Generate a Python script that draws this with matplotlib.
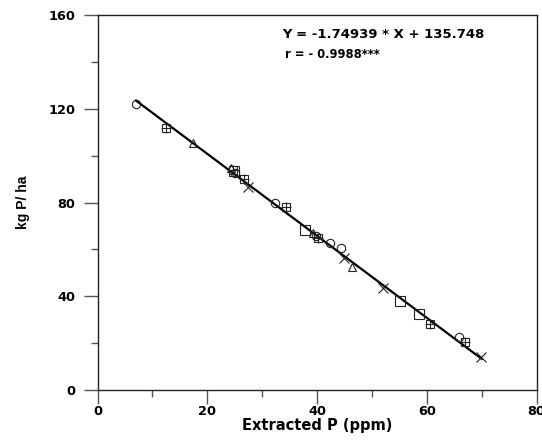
import matplotlib
matplotlib.use("Agg")
import matplotlib.pyplot as plt
import numpy as np
from matplotlib.ticker import MultipleLocator

plt.rcParams['font.family'] = ['DejaVu Sans']

# data, grouped by marker
circle_x = [7.0, 25.0, 32.3, 39.8, 42.4, 44.3, 65.8]
circle_y = [122.0, 92.4, 79.8, 65.7, 62.6, 60.4, 22.6]
boxplus_x = [12.4, 24.7, 26.7, 34.4, 40.1, 60.5, 66.9]
boxplus_y = [111.9, 93.9, 89.9, 78.2, 65.0, 28.2, 20.5]
tri_x = [17.4, 24.4, 39.2, 46.4]
tri_y = [105.2, 94.9, 67.1, 52.4]
square_x = [24.8, 37.8, 55.1, 58.5]
square_y = [93.5, 68.3, 38.1, 32.3]
cross_x = [27.4, 44.9, 52.0, 69.8]
cross_y = [86.7, 56.2, 43.4, 13.9]

slope = -1.74939
intercept = 135.748
fit_x = np.array([7.0, 70.0])

fig = plt.figure(figsize=(5.42, 4.44), dpi=100)
ax = fig.add_axes([0.180, 0.1216, 0.810, 0.8446])

ax.plot(fit_x, slope * fit_x + intercept, color='black', linewidth=1.6, zorder=2)

mk = dict(linestyle='none', markerfacecolor='none', markeredgecolor='#222222',
          markeredgewidth=0.8, zorder=3)
ax.plot(circle_x, circle_y, marker='o', markersize=6, **mk)
ax.plot(boxplus_x, boxplus_y, marker='s', markersize=6, **mk)
ax.plot(boxplus_x, boxplus_y, marker='+', markersize=7, **mk)
ax.plot(tri_x, tri_y, marker='^', markersize=6, **mk)
ax.plot(square_x, square_y, marker='s', markersize=6.5, **mk)
ax.plot(cross_x, cross_y, marker='x', markersize=7, **mk)

ax.set_xlim(0, 80)
ax.set_ylim(0, 160)
ax.xaxis.set_major_locator(MultipleLocator(20))
ax.xaxis.set_minor_locator(MultipleLocator(10))
ax.yaxis.set_major_locator(MultipleLocator(40))
ax.yaxis.set_minor_locator(MultipleLocator(20))
ax.tick_params(which='major', direction='out', length=10, width=1, color='#555555')
ax.tick_params(which='minor', direction='out', length=5, width=1, color='#555555')
ax.tick_params(axis='x', which='major', pad=1, labelsize=9.3)
ax.tick_params(axis='y', which='major', pad=6, labelsize=9.3)
for lab in ax.get_xticklabels() + ax.get_yticklabels():
    lab.set_fontweight('bold')
for sp in ax.spines.values():
    sp.set_linewidth(1)
    sp.set_color('#222222')

ax.set_xlabel('Extracted P (ppm)', fontsize=10.5, fontweight='bold', labelpad=0)
ax.set_ylabel('kg P/ ha', fontsize=10, fontweight='bold', labelpad=13,
              family='Liberation Sans')

fig.text(282 / 542, 1 - 35 / 444, 'Y = -1.74939 * X + 135.748', fontsize=9.5,
         fontweight='bold', va='center', ha='left')
fig.text(285 / 542, 1 - 54 / 444, 'r = - 0.9988***', fontsize=8.3,
         fontweight='bold', va='center', ha='left')

fig.savefig('out.png', dpi=100)
